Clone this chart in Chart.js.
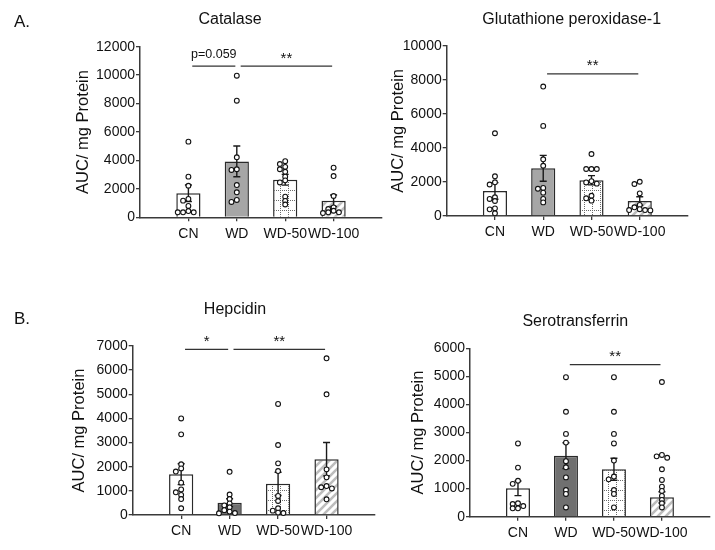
<!DOCTYPE html>
<html><head><meta charset="utf-8">
<script src="https://cdn.jsdelivr.net/npm/chart.js@4"></script>
<style>
html,body{margin:0;padding:0;background:#fff;}
#wrap{position:relative;width:715px;height:550px;overflow:hidden;background:#fff;}
#wrap canvas{position:absolute;}
</style></head><body><div id="wrap"></div>
<script>
// ---------- data ----------
const categories = ['CN', 'WD', 'WD-50', 'WD-100'];

// Catalase
const catalaseMean = [1690, 3930, 2640, 1170];
const catalaseSEM = [580, 1080, 380, 400];
const catalaseCN = [5320, 2860, 2220, 1290, 1170, 800, 440, 350, 350, 350];
const catalaseWD = [9960, 8200, 4220, 3380, 3330, 2270, 1760, 1220, 1080];
const catalaseWD50 = [3950, 3750, 3550, 3380, 3200, 2860, 2600, 2450, 1450, 1150, 900];
const catalaseWD100 = [3490, 2900, 1500, 700, 580, 460, 350, 350, 300];
const catalaseYTicks = [0, 2000, 4000, 6000, 8000, 10000, 12000];
const catalaseSigFrom = [0, 1];
const catalaseSigTo = [1, 3];
const catalaseSigText = ['p=0.059', '**'];
const catalaseSigY = 10640;

// Glutathione peroxidase-1
const gpxMean = [1470, 2800, 2100, 880];
const gpxSEM = [490, 760, 270, 250];
const gpxCN = [4860, 2330, 1980, 1850, 1100, 1000, 880, 450, 390, 160];
const gpxWD = [7600, 5290, 3330, 2950, 1650, 1600, 1370, 1000, 800];
const gpxWD50 = [3640, 2760, 2760, 2760, 2050, 1970, 1900, 1190, 1040, 900];
const gpxWD100 = [2010, 1880, 1330, 650, 510, 400, 350, 350, 330];
const gpxYTicks = [0, 2000, 4000, 6000, 8000, 10000];
const gpxSigFrom = [1];
const gpxSigTo = [3];
const gpxSigText = ['**'];
const gpxSigY = 8340;

// Hepcidin
const hepcidinMean = [1690, 510, 1290, 2310];
const hepcidinSEM = [430, 165, 480, 690];
const hepcidinCN = [4000, 3340, 2100, 1930, 1800, 1340, 1060, 940, 830, 660, 280];
const hepcidinWD = [1790, 850, 660, 480, 400, 320, 200, 140, 80, 70];
const hepcidinWD50 = [4600, 2900, 2140, 1820, 790, 580, 280, 180, 100, 80];
const hepcidinWD100 = [6490, 5000, 1890, 1560, 1200, 1150, 1100, 650];
const hepcidinYTicks = [0, 1000, 2000, 3000, 4000, 5000, 6000, 7000];
const hepcidinSigFrom = [0, 1];
const hepcidinSigTo = [1, 3];
const hepcidinSigText = ['*', '**'];
const hepcidinSigY = 6860;

// Serotransferrin
const seroMean = [1010, 2175, 1690, 690];
const seroSEM = [260, 460, 390, 200];
const seroCN = [2610, 1750, 1280, 1170, 480, 450, 380, 300, 300];
const seroWD = [4970, 3740, 2950, 2640, 1980, 1760, 1400, 950, 810, 330];
const seroWD50 = [4970, 3740, 2950, 2610, 2000, 1430, 1330, 950, 810, 330];
const seroWD100 = [4800, 2200, 2150, 2100, 1690, 1310, 1070, 920, 740, 600, 480, 330];
const seroYTicks = [0, 1000, 2000, 3000, 4000, 5000, 6000];
const seroSigFrom = [1];
const seroSigTo = [3];
const seroSigText = ['**'];
const seroSigY = 5420;

// ---------- styles ----------
const FONT = "'Liberation Sans', Arial, Helvetica, sans-serif";
const AXIS = '#3a3a3a';
const INK = '#111';

function dotGridPattern() {
  const c = document.createElement('canvas');
  c.width = 8; c.height = 10;
  const g = c.getContext('2d');
  g.fillStyle = '#fff'; g.fillRect(0, 0, 8, 10);
  g.fillStyle = '#6a6a6a';
  for (let y = 0; y < 10; y += 2) g.fillRect(0, y, 1, 1);
  for (let x = 0; x < 8; x += 2) g.fillRect(x, 0, 1, 1);
  return g.createPattern(c, 'repeat');
}
function hatchPattern() {
  const c = document.createElement('canvas');
  c.width = 8; c.height = 8;
  const g = c.getContext('2d');
  g.fillStyle = '#fff'; g.fillRect(0, 0, 8, 8);
  g.strokeStyle = '#bdbdbd'; g.lineWidth = 2.6;
  g.beginPath();
  g.moveTo(-2, 2); g.lineTo(2, -2);
  g.moveTo(0, 8); g.lineTo(8, 0);
  g.moveTo(6, 10); g.lineTo(10, 6);
  g.stroke();
  return g.createPattern(c, 'repeat');
}

// horizontal spreading of near-identical dots (layout only)
function spread(values, dyUnits) {
  const step = 0.11;
  const placed = [];
  const order = values.map((v, i) => i).sort((a, b) => values[b] - values[a]);
  const out = new Array(values.length);
  for (const i of order) {
    const v = values[i];
    const near = placed.filter(p => Math.abs(p.y - v) < dyUnits);
    let off = 0;
    for (const c of [0, -1, 1, -2, 2, -3, 3]) {
      const o = c * step;
      if (near.every(p => Math.abs(p.o - o) > step * 0.9)) { off = o; break; }
    }
    placed.push({ y: v, o: off });
    out[i] = off;
  }
  return out;
}

function makePanel(p) {
  const cv = document.createElement('canvas');
  cv.width = p.cw; cv.height = p.ch;
  cv.style.left = p.cx + 'px'; cv.style.top = p.cy + 'px';
  cv.style.width = p.cw + 'px'; cv.style.height = p.ch + 'px';
  document.getElementById('wrap').appendChild(cv);

  const yMax = p.yTicks[p.yTicks.length - 1];
  const plotH = p.B - p.T;
  const dy = 3.2 * yMax / plotH;
  const pts = [];
  p.groups.forEach((vals, gi) => {
    const offs = spread(vals, dy);
    vals.forEach((v, k) => pts.push({ x: gi + 1 + offs[k], y: v }));
  });

  const pl = p.yTitleX - 9.9 - p.cx;
  const yw = p.L - p.cx - pl;
  const pr = p.cx + p.cw - p.R;
  const pt = p.T - p.cy;
  const pb = p.cy + p.ch - p.B - p.xh;

  const panelText = {
    id: 'panelText',
    afterDatasetDraw(chart, args) {
      if (args.meta.type !== 'bar') return;
      const { ctx, scales: { x, y } } = chart;
      ctx.save();
      ctx.strokeStyle = '#1a1a1a'; ctx.lineWidth = 1.4;
      p.mean.forEach((m, i) => {
        const px = x.getPixelForValue(i + 1);
        const y1 = y.getPixelForValue(m + p.sem[i]);
        const y0 = y.getPixelForValue(m - p.sem[i]);
        ctx.beginPath();
        ctx.moveTo(px, y0); ctx.lineTo(px, y1);
        ctx.moveTo(px - 3.5, y1); ctx.lineTo(px + 3.5, y1);
        ctx.moveTo(px - 3.5, y0); ctx.lineTo(px + 3.5, y0);
        ctx.stroke();
      });
      ctx.restore();
    },
    afterDraw(chart) {
      const { ctx, scales: { x, y } } = chart;
      ctx.save();
      ctx.fillStyle = INK;
      ctx.textAlign = 'center'; ctx.textBaseline = 'alphabetic';
      ctx.font = '16px ' + FONT;
      ctx.fillText(p.title, p.titleX - p.cx, p.titleY - p.cy);
      if (p.letter) {
        ctx.textAlign = 'left';
        ctx.font = '17px ' + FONT;
        ctx.fillText(p.letter, p.letterX - p.cx, p.letterY - p.cy);
      }
      // significance bars
      ctx.strokeStyle = '#333'; ctx.lineWidth = 1.3;
      const ly = y.getPixelForValue(p.sigY);
      p.sigFrom.forEach((f, i) => {
        const x0 = x.getPixelForValue(f + 1 + 0.08);
        const x1 = x.getPixelForValue(p.sigTo[i] + 1 - 0.03);
        ctx.beginPath(); ctx.moveTo(x0, ly); ctx.lineTo(x1, ly); ctx.stroke();
        const t = p.sigText[i];
        const star = t.indexOf('*') === 0;
        ctx.textAlign = 'center';
        ctx.font = (star ? '15px ' : '12.5px ') + FONT;
        ctx.fillText(t, (x0 + x1) / 2, ly - (star ? 3.5 : 8.5));
      });
      ctx.restore();
    }
  };

  return new Chart(cv, {
    type: 'bar',
    data: {
      datasets: [
        {
          type: 'bar', order: 2,
          data: p.mean.map((m, i) => ({ x: i + 1, y: m })),
          backgroundColor: ['#ffffff', p.wdColor, dotGridPattern(), hatchPattern()],
          borderColor: '#2a2a2a', borderWidth: 1.5,
          barPercentage: 0.5, categoryPercentage: 1.0
        },
        {
          type: 'scatter', order: 1, clip: false,
          data: pts,
          pointRadius: 2.4, pointBackgroundColor: '#fff',
          pointBorderColor: '#111', pointBorderWidth: 1.1
        }
      ]
    },
    options: {
      responsive: false, animation: false, devicePixelRatio: 1,
      layout: { padding: { left: pl, right: pr, top: pt, bottom: pb } },
      plugins: { legend: { display: false }, tooltip: { enabled: false }, title: { display: false } },
      scales: {
        x: {
          type: 'linear', min: 0, max: 5, offset: false,
          afterBuildTicks: s => { s.ticks = categories.map((c, i) => ({ value: i + 1 })); },
          afterFit: s => { s.height = p.xh; },
          grid: { display: true, drawOnChartArea: false, drawTicks: true, tickLength: 4, color: AXIS, lineWidth: 1.3, offset: false },
          border: { display: true, color: AXIS, width: 1.5 },
          ticks: { color: INK, font: { family: FONT, size: 14 }, padding: 4, autoSkip: false, maxRotation: 0,
                   callback: v => categories[Math.round(v) - 1] }
        },
        y: {
          min: 0, max: yMax,
          afterBuildTicks: s => { s.ticks = p.yTicks.map(v => ({ value: v })); },
          afterFit: s => { s.width = yw; },
          grid: { display: true, drawOnChartArea: false, drawTicks: true, tickLength: 4, color: AXIS, lineWidth: 1.3 },
          border: { display: true, color: AXIS, width: 1.5 },
          ticks: { color: INK, font: { family: FONT, size: 14 }, padding: 1, callback: v => String(v) },
          title: { display: true, text: 'AUC/ mg Protein', color: INK, font: { family: FONT, size: 16.5 }, padding: 0 }
        }
      }
    },
    plugins: [panelText]
  });
}

makePanel({
  title: 'Catalase', letter: 'A.', letterX: 14, letterY: 27,
  titleX: 230, titleY: 24,
  cx: 0, cy: 0, cw: 390, ch: 262, L: 140, R: 382, T: 46.7, B: 217.3, xh: 36, yTitleX: 83.3,
  mean: catalaseMean, sem: catalaseSEM,
  groups: [catalaseCN, catalaseWD, catalaseWD50, catalaseWD100],
  yTicks: catalaseYTicks, wdColor: '#a6a6a6',
  sigFrom: catalaseSigFrom, sigTo: catalaseSigTo, sigText: catalaseSigText, sigY: catalaseSigY
});
makePanel({
  title: 'Glutathione peroxidase-1', letter: null,
  titleX: 571.7, titleY: 24,
  cx: 360, cy: 0, cw: 355, ch: 262, L: 446.7, R: 688, T: 45.7, B: 216, xh: 36, yTitleX: 398.3,
  mean: gpxMean, sem: gpxSEM,
  groups: [gpxCN, gpxWD, gpxWD50, gpxWD100],
  yTicks: gpxYTicks, wdColor: '#a6a6a6',
  sigFrom: gpxSigFrom, sigTo: gpxSigTo, sigText: gpxSigText, sigY: gpxSigY
});
makePanel({
  title: 'Hepcidin', letter: 'B.', letterX: 14, letterY: 324,
  titleX: 235, titleY: 314,
  cx: 0, cy: 270, cw: 390, ch: 280, L: 132.7, R: 375, T: 346, B: 515, xh: 34, yTitleX: 79.3,
  mean: hepcidinMean, sem: hepcidinSEM,
  groups: [hepcidinCN, hepcidinWD, hepcidinWD50, hepcidinWD100],
  yTicks: hepcidinYTicks, wdColor: '#707070',
  sigFrom: hepcidinSigFrom, sigTo: hepcidinSigTo, sigText: hepcidinSigText, sigY: hepcidinSigY
});
makePanel({
  title: 'Serotransferrin', letter: null,
  titleX: 575.3, titleY: 326,
  cx: 360, cy: 270, cw: 355, ch: 280, L: 470, R: 713, T: 348.3, B: 516.7, xh: 33, yTitleX: 418.3,
  mean: seroMean, sem: seroSEM,
  groups: [seroCN, seroWD, seroWD50, seroWD100],
  yTicks: seroYTicks, wdColor: '#707070',
  sigFrom: seroSigFrom, sigTo: seroSigTo, sigText: seroSigText, sigY: seroSigY
});
</script>
</body></html>
